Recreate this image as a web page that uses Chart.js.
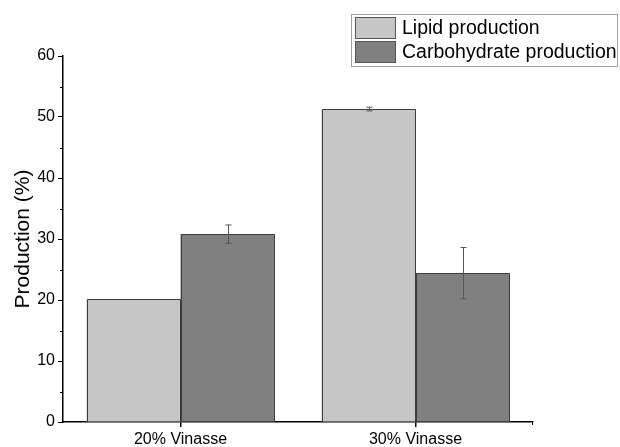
<!DOCTYPE html>
<html>
<head>
<meta charset="utf-8">
<script src="https://cdn.jsdelivr.net/npm/chart.js@4"></script>
<style>
  html, body { margin: 0; padding: 0; background: #fff; }
  #wrap { width: 620px; height: 447px; }
</style>
</head>
<body>
<div id="wrap"><canvas id="chart" width="620" height="447"></canvas></div>
<script>
// Data
const categories = ["20% Vinasse", "30% Vinasse"];
const lipid = [20.1, 51.3];
const lipidErr = [0, 0.3];
const carbs = [30.8, 24.4];
const carbsErr = [1.5, 4.2];
const yTicks = [0, 10, 20, 30, 40, 50, 60];

const FONT = "'Liberation Sans', Arial, sans-serif";

// Bar outlines and error bars, positioned from the bar elements / y scale
const errorBars = {
  id: "errorBars",
  afterDatasetsDraw(chart) {
    const ctx = chart.ctx;
    const y = chart.scales.y;
    chart.data.datasets.forEach((ds, i) => {
      const meta = chart.getDatasetMeta(i);
      meta.data.forEach((bar, j) => {
        const p = bar.getProps(["x", "y", "base", "width"], true);
        ctx.save();
        ctx.strokeStyle = "#3c3c3c";
        ctx.lineWidth = 1;
        const l = Math.round(p.x - p.width / 2) + 0.5;
        const r = Math.round(p.x + p.width / 2) - 0.5;
        const t = Math.round(p.y) + 0.5;
        const b = Math.round(p.base);
        ctx.beginPath();
        ctx.moveTo(l, b); ctx.lineTo(l, t); ctx.lineTo(r, t); ctx.lineTo(r, b);
        ctx.stroke();
        ctx.restore();

        const err = ds.errors[j];
        if (!err) return;
        const top = y.getPixelForValue(ds.data[j] + err);
        const bot = y.getPixelForValue(ds.data[j] - err);
        const x = Math.round(p.x) + 0.5;
        ctx.save();
        ctx.strokeStyle = "#555";
        ctx.lineWidth = 1;
        ctx.beginPath();
        ctx.moveTo(x, top); ctx.lineTo(x, bot);
        ctx.moveTo(x - 3, top); ctx.lineTo(x + 3, top);
        ctx.moveTo(x - 3, bot); ctx.lineTo(x + 3, bot);
        ctx.stroke();
        ctx.restore();
      });
    });
  }
};

// Minor ticks on the y axis and the boxed legend
const extras = {
  id: "extras",
  afterDraw(chart) {
    const ctx = chart.ctx;
    const y = chart.scales.y;
    const { left, right, bottom } = chart.chartArea;
    ctx.save();
    ctx.strokeStyle = "#000";
    ctx.lineWidth = 1;
    for (let v = 5; v < 60; v += 10) {
      const py = Math.round(y.getPixelForValue(v)) + 0.5;
      ctx.beginPath();
      ctx.moveTo(left - 3, py); ctx.lineTo(left, py);
      ctx.stroke();
    }
    // small end tick at the right of the x axis
    ctx.beginPath();
    ctx.moveTo(right - 0.5, bottom); ctx.lineTo(right - 0.5, bottom + 3);
    ctx.stroke();

    // legend
    const bx = 351, by = 14, bw = 266, bh = 52;
    ctx.fillStyle = "#fff";
    ctx.fillRect(bx, by, bw, bh);
    ctx.strokeStyle = "#a0a0a0";
    ctx.strokeRect(bx + 0.5, by + 0.5, bw, bh);
    chart.data.datasets.forEach((ds, i) => {
      const ry = by + 3 + i * 24;
      ctx.fillStyle = ds.backgroundColor;
      ctx.fillRect(355, ry, 41, 22);
      ctx.strokeStyle = "#555";
      ctx.strokeRect(355.5, ry + 0.5, 40, 21);
      ctx.fillStyle = "#000";
      ctx.font = "19.5px " + FONT;
      ctx.textBaseline = "middle";
      ctx.fillText(ds.label, 402, ry + 12);
    });
    ctx.restore();
  }
};

new Chart(document.getElementById("chart"), {
  type: "bar",
  data: {
    labels: categories,
    datasets: [
      {
        label: "Lipid production",
        data: lipid,
        errors: lipidErr,
        backgroundColor: "#c6c6c6",
        borderWidth: 0
      },
      {
        label: "Carbohydrate production",
        data: carbs,
        errors: carbsErr,
        backgroundColor: "#808080",
        borderWidth: 0
      }
    ]
  },
  options: {
    responsive: false,
    animation: false,
    layout: { padding: { top: 56, right: 87, left: 0, bottom: 0 } },
    datasets: { bar: { barPercentage: 1.0, categoryPercentage: 0.8 } },
    plugins: {
      legend: { display: false },
      tooltip: { enabled: false }
    },
    scales: {
      x: {
        grid: { offset: false, drawOnChartArea: false, drawTicks: true, tickLength: 5, color: "#000", lineWidth: 1.5 },
        border: { display: true, color: "#000", width: 1.5 },
        ticks: { color: "#000", padding: 3, font: { family: FONT, size: 16 } },
        afterFit(scale) { scale.height = 25; }
      },
      y: {
        min: 0,
        max: 60,
        afterBuildTicks(scale) { scale.ticks = yTicks.map(v => ({ value: v })); },
        grid: { drawOnChartArea: false, drawTicks: true, tickLength: 5, color: "#000" },
        border: { display: true, color: "#000", width: 1.5 },
        ticks: { color: "#000", padding: 3, font: { family: FONT, size: 16 } },
        title: {
          display: true,
          text: "Production (%)",
          color: "#000",
          font: { family: FONT, size: 21 },
          padding: { top: 11, bottom: 0 }
        },
        afterFit(scale) { scale.width = 63; }
      }
    }
  },
  plugins: [errorBars, extras]
});
</script>
</body>
</html>
